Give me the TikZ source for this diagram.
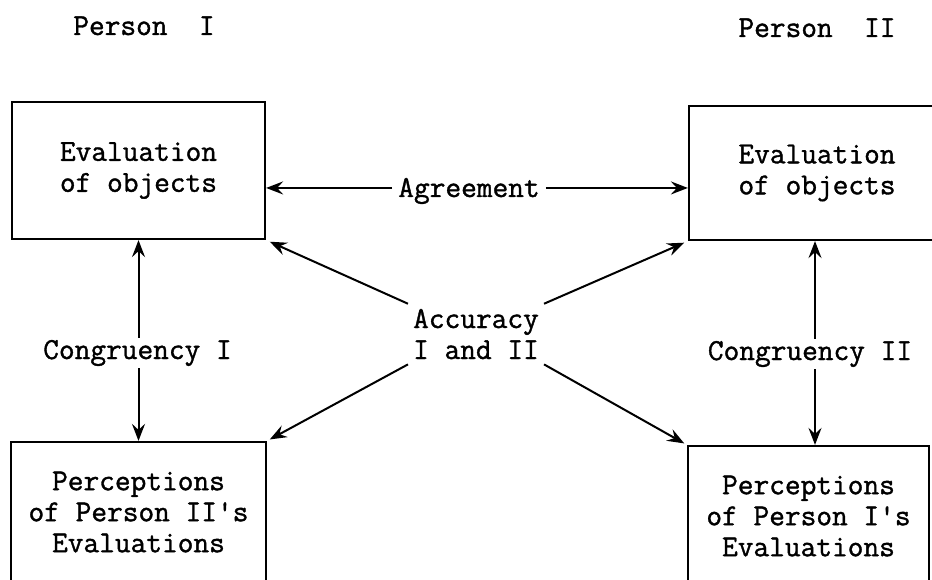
\documentclass[tikz,border=0pt]{standalone}
\usepackage{fontspec}
\newfontfamily\twfont{Latin Modern Mono}[FakeBold=1.2]
\usetikzlibrary{arrows.meta,calc}
\tikzset{
  txt/.style={font=\twfont\fontsize{30.5}{31}\selectfont, inner sep=2pt, align=center},
  boxnode/.style={draw, line width=2.2pt, txt, anchor=center},
  arr/.style={line width=2pt, -{Stealth[length=17pt,width=13pt,inset=6pt]}}
}
\begin{document}
\begin{tikzpicture}[x=1pt,y=-1pt]
\useasboundingbox (0,0) rectangle (932,580);
\clip (0,0) rectangle (932,580);
\fill[white] (0,0) rectangle (932,580);

% boxes
\node[boxnode, minimum width=253pt, minimum height=137pt] (tl) at (138.5,170.5) {Evaluation\\of objects};
\node[boxnode, minimum width=256pt, minimum height=134pt] (tr) at (817,173) {Evaluation\\of objects};
\node[boxnode, minimum width=255pt, minimum height=140pt] (bl) at (138.5,512) {Perceptions\\of Person II's\\Evaluations};
\node[boxnode, minimum width=241pt, minimum height=140pt] (br) at (808.5,516) {Perceptions\\of Person I's\\Evaluations};

% headings
\node[txt, anchor=base] (p1) at (144,35) {Person\ \ I};
\node[txt, anchor=base] (p2) at (817,37) {Person\ \ II};

% labels
\node[txt, anchor=base, inner xsep=6pt] (agr) at (469,197) {Agreement};
\node[txt, anchor=base, inner sep=5pt] (acc) at (476,359) {Accuracy\\I and II};
\node[txt, anchor=base] (cg1) at (137.5,359) {Congruency I};
\node[txt, anchor=base] (cg2) at (810,360) {Congruency II};

% agreement
\draw[arr] ([yshift=3pt]agr.west) -- ([yshift=3pt]agr.west -| tl.east);
\draw[arr] ([yshift=3pt]agr.east) -- ([yshift=3pt]agr.east -| tr.west);

% congruency
\draw[arr] (cg1.north -| tl.south) -- (tl.south);
\draw[arr] (cg1.south -| bl.north) -- (bl.north);
\draw[arr] ([xshift=-2pt]cg2.north -| tr.south) -- ([xshift=-2pt]tr.south);
\draw[arr] ([xshift=-2pt]cg2.south -| tr.south) -- ([xshift=-2pt]tr.south |- br.north);

% accuracy
\draw[arr, shorten >=4pt] (acc.north west) -- (tl.south east);
\draw[arr, shorten >=4pt] (acc.north east) -- (tr.south west);
\draw[arr, shorten >=3pt] (acc.south west) -- (bl.north east);
\draw[arr, shorten >=3pt] (acc.south east) -- (br.north west);
\end{tikzpicture}
\end{document}
